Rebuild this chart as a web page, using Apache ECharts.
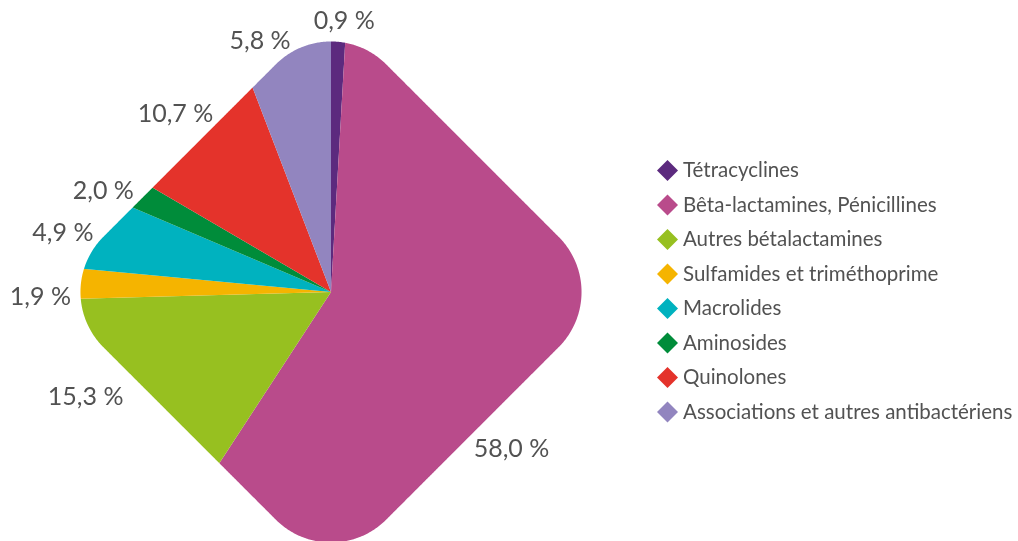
<!DOCTYPE html>
<html><head><meta charset="utf-8">
<script src="https://cdn.jsdelivr.net/npm/echarts@6/dist/echarts.min.js"></script>
<style>html,body{margin:0;padding:0;background:#fff}#c{width:1018px;height:541px}</style>
</head><body><div id="c"></div>
<script>
// ---- data ----
const categories = ['Tétracyclines', 'Bêta-lactamines, Pénicillines', 'Autres bétalactamines',
  'Sulfamides et triméthoprime', 'Macrolides', 'Aminosides', 'Quinolones',
  'Associations et autres antibactériens'];
const shares = [0.9, 58.0, 15.3, 1.9, 4.9, 2.0, 10.7, 5.8];

// ---- style / layout ----
const colors = ['#5c2a7e', '#b94b8b', '#97c020', '#f5b400', '#00b2bf', '#008c3a', '#e4332b', '#9285bf'];
const CX = 331, CY = 292;          // pie centre
const HALF = 200, CORNER = 78;     // rounded diamond: half side, corner radius
const GAP = 8;                     // label distance from the shape
const nudges = [[5, 0], [-76, 81], [-24, -7], [-2, 14], [-5, 3], [-5, 3], [4, -9], [-20, 6]];
const TXT = '#525252';
const FONT = 'Lato';

function boundaryRadius(theta) {
  const dx = Math.sin(theta), dy = -Math.cos(theta);
  const ux = (dx - dy) / Math.SQRT2, uy = (dx + dy) / Math.SQRT2;
  const b = HALF - CORNER;
  const sdf = t => {
    const qx = Math.abs(t * ux) - b, qy = Math.abs(t * uy) - b;
    return Math.hypot(Math.max(qx, 0), Math.max(qy, 0)) + Math.min(Math.max(qx, qy), 0) - CORNER;
  };
  let lo = 0, hi = 400;
  for (let i = 0; i < 50; i++) { const m = (lo + hi) / 2; if (sdf(m) > 0) hi = m; else lo = m; }
  return lo;
}

// white mask with a rounded-diamond hole (keyhole polygon)
const maskPts = [[-20, CY], [-20, -20], [1040, -20], [1040, 570], [-20, 570], [-20, CY]];
for (let a = 270; a >= -90; a -= 0.25) {
  const t = a * Math.PI / 180, r = boundaryRadius(t);
  maskPts.push([CX + r * Math.sin(t), CY - r * Math.cos(t)]);
}

const total = shares.reduce((s, v) => s + v, 0);
function midAngleFallback(i) {
  let c = 0; for (let k = 0; k < i; k++) c += shares[k];
  return (c + shares[i] / 2) / total * 2 * Math.PI;
}

const pieData = categories.map((n, i) => ({ name: n, value: shares[i], itemStyle: { color: colors[i] } }));
const labelData = categories.map((n, i) => ({ name: n, value: shares[i] }));

const chart = echarts.init(document.getElementById('c'));
chart.setOption({
  animation: false,
  legend: {
    orient: 'vertical', left: 652, top: 155, itemWidth: 21, itemHeight: 21, itemGap: 13.5,
    icon: 'diamond', data: categories,
    textStyle: { fontFamily: FONT, fontSize: 20.5, color: TXT }
  },
  graphic: [{ type: 'polygon', z: 3, silent: true, shape: { points: maskPts }, style: { fill: '#ffffff' } }],
  series: [
    {
      type: 'pie', z: 2, center: [CX, CY], radius: [0, 252], startAngle: 90, clockwise: true,
      silent: true, label: { show: false }, labelLine: { show: false },
      itemStyle: { borderWidth: 0 }, data: pieData
    },
    {
      type: 'pie', z: 5, center: [CX, CY], radius: [0, 252], startAngle: 90, clockwise: true,
      silent: true, avoidLabelOverlap: false,
      itemStyle: { color: 'rgba(0,0,0,0)', borderWidth: 0 },
      label: {
        show: true, position: 'outside', fontFamily: FONT, fontSize: 25, color: TXT,
        formatter: p => p.value.toFixed(1).replace('.', ',') + ' %'
      },
      labelLine: { show: true, lineStyle: { opacity: 0 } },
      labelLayout: function (params) {
        const i = params.dataIndex;
        let theta;
        const pts = params.labelLinePoints;
        if (pts && pts[0]) theta = Math.atan2(pts[0][0] - CX, -(pts[0][1] - CY));
        else theta = midAngleFallback(i);
        const r = boundaryRadius(theta);
        const dx = Math.sin(theta), dy = -Math.cos(theta);
        const w = params.labelRect.width, h = params.labelRect.height;
        return {
          x: CX + (r + GAP) * dx + dx * w / 2 + nudges[i][0],
          y: CY + (r + GAP) * dy + dy * h / 2 + nudges[i][1],
          align: 'center', verticalAlign: 'middle'
        };
      },
      data: labelData
    }
  ]
});
</script></body></html>
